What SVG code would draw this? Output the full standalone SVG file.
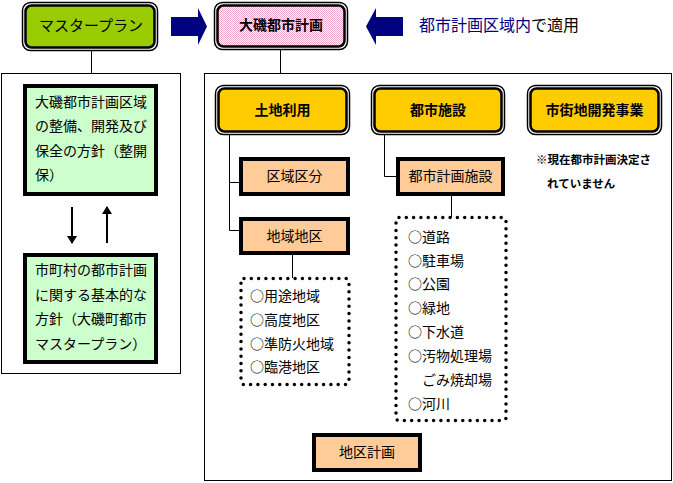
<svg xmlns="http://www.w3.org/2000/svg" width="673" height="483" viewBox="0 0 673 483">
<style>
text{font-family:"Noto Sans CJK JP","Noto Sans",sans-serif;fill:#000;}
.t14{font-size:14px;}
.b14{font-size:14px;font-weight:bold;}
.mid{text-anchor:middle;}
.ln{stroke:#000;stroke-width:1;fill:none;}
.outer{fill:none;stroke:#000;stroke-width:1.5;}
.inner{stroke:#000;stroke-width:2.5;}
.sq{stroke:#000;stroke-width:4;}
.dots{fill:none;stroke:#000;stroke-width:3.5;stroke-dasharray:0 7.3;stroke-linecap:round;}
.frame{fill:#fff;stroke:#000;stroke-width:1;}
</style>
<defs>
<pattern id="pk" width="2" height="2" patternUnits="userSpaceOnUse">
<rect width="2" height="2" fill="#fff"/>
<rect width="1" height="1" fill="#f0a8cc"/>
<rect x="1" y="1" width="1" height="1" fill="#f0a8cc"/>
</pattern>
<marker id="ah" markerWidth="8" markerHeight="10" refX="7" refY="5" orient="auto" markerUnits="userSpaceOnUse">
<path d="M0,0 L8,5 L0,10 Z" fill="#000"/>
</marker>
</defs>
<rect width="673" height="483" fill="#fff"/>

<!-- frames -->
<rect class="frame" x="1.5" y="73.5" width="179" height="300"/>
<rect class="frame" x="204.5" y="73.5" width="467" height="407"/>

<g id="connectors">
<line class="ln" x1="91.5" y1="51" x2="91.5" y2="74"/>
<line class="ln" x1="280.5" y1="50" x2="280.5" y2="74"/>
<polyline class="ln" points="229.5,135 229.5,230.5 240,230.5"/>
<line class="ln" x1="229.5" y1="182.5" x2="240" y2="182.5"/>
<polyline class="ln" points="384.5,135 384.5,176.5 396,176.5"/>
<line class="ln" x1="292.5" y1="255" x2="292.5" y2="278"/>
<line class="ln" x1="451.5" y1="196" x2="451.5" y2="217"/>
<line x1="72" y1="207" x2="72" y2="243" stroke="#000" stroke-width="2" marker-end="url(#ah)"/>
<line x1="107" y1="243" x2="107" y2="207" stroke="#000" stroke-width="2" marker-end="url(#ah)"/>
<polygon points="171,17 198,17 198,8 207,26.5 198,45 198,36 171,36" fill="#000080"/>
<polygon points="403,17 376,17 376,8 366,26.5 376,45 376,36 403,36" fill="#000080"/>
</g>

<g id="masterplan">
<rect class="outer" x="22.5" y="2.5" width="135" height="48" rx="8"/>
<rect class="inner" x="25.5" y="5.5" width="129" height="42" rx="6" fill="#99cc00"/>
<text class="t14 mid" x="91" y="31" style="font-size:15px">マスタープラン</text>
</g>

<g id="oiso">
<rect class="outer" x="214.5" y="2.5" width="133" height="47" rx="8"/>
<rect class="inner" x="217.5" y="5.5" width="127" height="41" rx="6" fill="url(#pk)"/>
<text class="b14 mid" x="281" y="30">大磯都市計画</text>
</g>

<g id="apply">
<text x="419" y="31" style="font-size:16px"><tspan fill="#000080" style="fill:#000080">都市計画区域内</tspan>で適用</text>
</g>

<g id="seikaiho">
<rect class="sq" x="25" y="86" width="131" height="108" fill="#ccffcc"/>
<text class="t14" x="35" y="107">大磯都市計画区域</text>
<text class="t14" x="35" y="131">の整備、開発及び</text>
<text class="t14" x="35" y="156">保全の方針（整開</text>
<text class="t14" x="35" y="180">保）</text>
</g>

<g id="shichoson">
<rect class="sq" x="25" y="255" width="131" height="107" fill="#ccffcc"/>
<text class="t14" x="35" y="275">市町村の都市計画</text>
<text class="t14" x="35" y="299.5">に関する基本的な</text>
<text class="t14" x="35" y="324">方針（大磯町都市</text>
<text class="t14" x="35" y="348.5">マスタープラン）</text>
</g>

<g id="tochiriyo">
<rect class="outer" x="215.5" y="85.5" width="134" height="49" rx="8"/>
<rect class="inner" x="218.5" y="88.5" width="128" height="43" rx="6" fill="#ffcc00"/>
<text class="b14 mid" x="282.5" y="115">土地利用</text>
</g>

<g id="toshishisetsu">
<rect class="outer" x="371.5" y="85.5" width="133" height="49" rx="8"/>
<rect class="inner" x="374.5" y="88.5" width="127" height="43" rx="6" fill="#ffcc00"/>
<text class="b14 mid" x="438" y="115">都市施設</text>
</g>

<g id="shigaichi">
<rect class="outer" x="527.5" y="85.5" width="134" height="49" rx="8"/>
<rect class="inner" x="530.5" y="88.5" width="128" height="43" rx="6" fill="#ffcc00"/>
<text class="b14 mid" x="594.5" y="115">市街地開発事業</text>
</g>

<g id="note">
<text x="536" y="164" style="font-size:11.5px;font-weight:bold">※現在都市計画決定さ</text>
<text x="547" y="188" style="font-size:11.5px;font-weight:bold">れていません</text>
</g>

<g id="kuikikubun">
<rect class="sq" x="241" y="159" width="107" height="35" fill="#ffcc99"/>
<text class="t14 mid" x="294.5" y="181">区域区分</text>
</g>

<g id="chiikichiku">
<rect class="sq" x="241" y="219" width="107" height="34" fill="#ffcc99"/>
<text class="t14 mid" x="294.5" y="241">地域地区</text>
</g>

<g id="toshikeikakushisetsu">
<rect class="sq" x="398" y="159" width="105" height="35" fill="#ffcc99"/>
<text class="t14 mid" x="450.5" y="181">都市計画施設</text>
</g>

<g id="chikukeikaku">
<rect class="sq" x="314" y="435" width="106" height="35" fill="#ffcc99"/>
<text class="t14 mid" x="367" y="457">地区計画</text>
</g>

<g id="list1">
<rect class="dots" x="241" y="278.5" width="108" height="106" rx="3"/>
<text class="t14" x="250" y="301">○用途地域</text>
<text class="t14" x="250" y="325">○高度地区</text>
<text class="t14" x="250" y="349">○準防火地域</text>
<text class="t14" x="250" y="372">○臨港地区</text>
</g>

<g id="list2">
<rect class="dots" x="396" y="217.5" width="110" height="203" rx="3"/>
<text class="t14" x="408" y="242">○道路</text>
<text class="t14" x="408" y="266">○駐車場</text>
<text class="t14" x="408" y="289">○公園</text>
<text class="t14" x="408" y="313">○緑地</text>
<text class="t14" x="408" y="337">○下水道</text>
<text class="t14" x="408" y="361">○汚物処理場</text>
<text class="t14" x="422" y="385">ごみ焼却場</text>
<text class="t14" x="408" y="409">○河川</text>
</g>
</svg>
